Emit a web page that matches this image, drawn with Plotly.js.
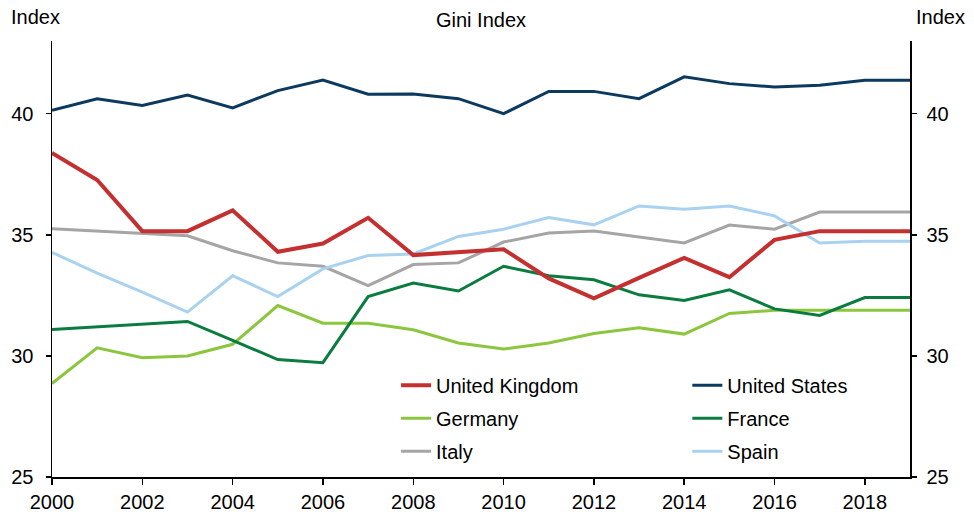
<!DOCTYPE html>
<html>
<head>
<meta charset="utf-8">
<script src="https://cdn.plot.ly/plotly-3.0.1.min.js"></script>
<style>html,body{margin:0;padding:0;background:#fff;}#chart{width:974px;height:515px;}</style>
</head>
<body>
<div id="chart"></div>
<script>
const years = [2000,2001,2002,2003,2004,2005,2006,2007,2008,2009,2010,2011,2012,2013,2014,2015,2016,2017,2018,2019];
const unitedKingdom = [38.38,37.26,35.15,35.15,36.01,34.30,34.64,35.70,34.16,34.27,34.40,33.20,32.38,33.22,34.04,33.25,34.79,35.15,35.15,35.15];
const unitedStates  = [40.14,40.61,40.34,40.77,40.24,40.95,41.39,40.80,40.81,40.62,40.00,40.92,40.92,40.62,41.52,41.24,41.10,41.17,41.38,41.38];
const germany       = [28.86,30.33,29.92,30.00,30.48,32.08,31.35,31.35,31.08,30.53,30.28,30.53,30.92,31.16,30.90,31.75,31.88,31.88,31.88,31.88];
const france        = [31.09,31.20,31.31,31.42,30.64,29.85,29.72,32.45,33.01,32.68,33.70,33.31,33.14,32.52,32.29,32.73,31.94,31.67,32.41,32.41];
const italy         = [35.25,35.16,35.07,34.96,34.34,33.84,33.70,32.90,33.77,33.84,34.70,35.07,35.16,34.92,34.66,35.40,35.23,35.94,35.94,35.94];
const spain         = [34.27,33.42,32.63,31.81,33.31,32.45,33.59,34.14,34.21,34.93,35.23,35.71,35.41,36.19,36.05,36.19,35.78,34.66,34.73,34.73];
const xTicks = [2000,2002,2004,2006,2008,2010,2012,2014,2016,2018];
const yTicks = [25,30,35,40];

const FONT = 'Liberation Sans, Arial, sans-serif';
const FS = 20;
function tr(name, ys, color, width, legend, rank) {
  return {x: years, y: ys, name: name, type: 'scatter', mode: 'lines',
    line: {color: color, width: width}, legend: legend, legendrank: rank,
    legendgroup: name, hoverinfo: 'skip'};
}
const traces = [
  tr('Italy', italy, '#a5a5a5', 3, 'legend', 3),
  tr('Spain', spain, '#a8d2f0', 3, 'legend2', 3),
  tr('Germany', germany, '#8cc63f', 3, 'legend', 2),
  tr('France', france, '#0a7c3f', 3, 'legend2', 2),
  tr('United States', unitedStates, '#0c3a5f', 3, 'legend2', 1),
  tr('United Kingdom', unitedKingdom, '#c4302f', 4, 'legend', 1),
  {x: [], y: [], yaxis: 'y2', showlegend: false, type: 'scatter', mode: 'lines', hoverinfo: 'skip'}
];
const axisY = {
  range: [25, 43], tickvals: yTicks, ticks: 'outside', ticklen: 5, tickwidth: 1.5,
  tickcolor: '#000', showline: true, linecolor: '#000', linewidth: 1.5,
  showgrid: false, zeroline: false, tickfont: {family: FONT, size: FS, color: '#000'},
  ticklabelstandoff: 8, fixedrange: true
};
const legendCommon = {
  orientation: 'v', bgcolor: 'rgba(0,0,0,0)', borderwidth: 0,
  font: {family: FONT, size: FS, color: '#000'}, tracegroupgap: 4,
  traceorder: 'grouped', xanchor: 'left', yanchor: 'top'
};
const layout = {
  width: 974, height: 515,
  margin: {l: 52, r: 64, t: 41, b: 38},
  paper_bgcolor: '#fff', plot_bgcolor: '#fff',
  showlegend: true,
  xaxis: {
    range: [2000, 2019], tickvals: xTicks, ticks: 'outside', ticklen: 6, tickwidth: 1.5,
    tickcolor: '#000', showline: true, linecolor: '#000', linewidth: 1.5,
    showgrid: false, zeroline: false, tickfont: {family: FONT, size: FS, color: '#000'}, fixedrange: true
  },
  yaxis: Object.assign({}, axisY),
  yaxis2: Object.assign({}, axisY, {overlaying: 'y', side: 'right', anchor: 'x', ticklabelstandoff: 6}),
  legend: Object.assign({}, legendCommon, {x: 0.401, y: 0.255}),
  legend2: Object.assign({}, legendCommon, {x: 0.7405, y: 0.255}),
  annotations: [
    {text: 'Gini Index', xref: 'paper', yref: 'paper', x: 0.5, y: 1, yshift: 21, xanchor: 'center', yanchor: 'middle', showarrow: false, font: {family: FONT, size: FS, color: '#000'}},
    {text: 'Index', xref: 'paper', yref: 'paper', x: 0, xshift: -17, y: 1, yshift: 24, xanchor: 'center', yanchor: 'middle', showarrow: false, font: {family: FONT, size: FS, color: '#000'}},
    {text: 'Index', xref: 'paper', yref: 'paper', x: 1, xshift: 30, y: 1, yshift: 24, xanchor: 'center', yanchor: 'middle', showarrow: false, font: {family: FONT, size: FS, color: '#000'}}
  ]
};
Plotly.newPlot('chart', traces, layout, {staticPlot: true, displayModeBar: false});
</script>
</body>
</html>
